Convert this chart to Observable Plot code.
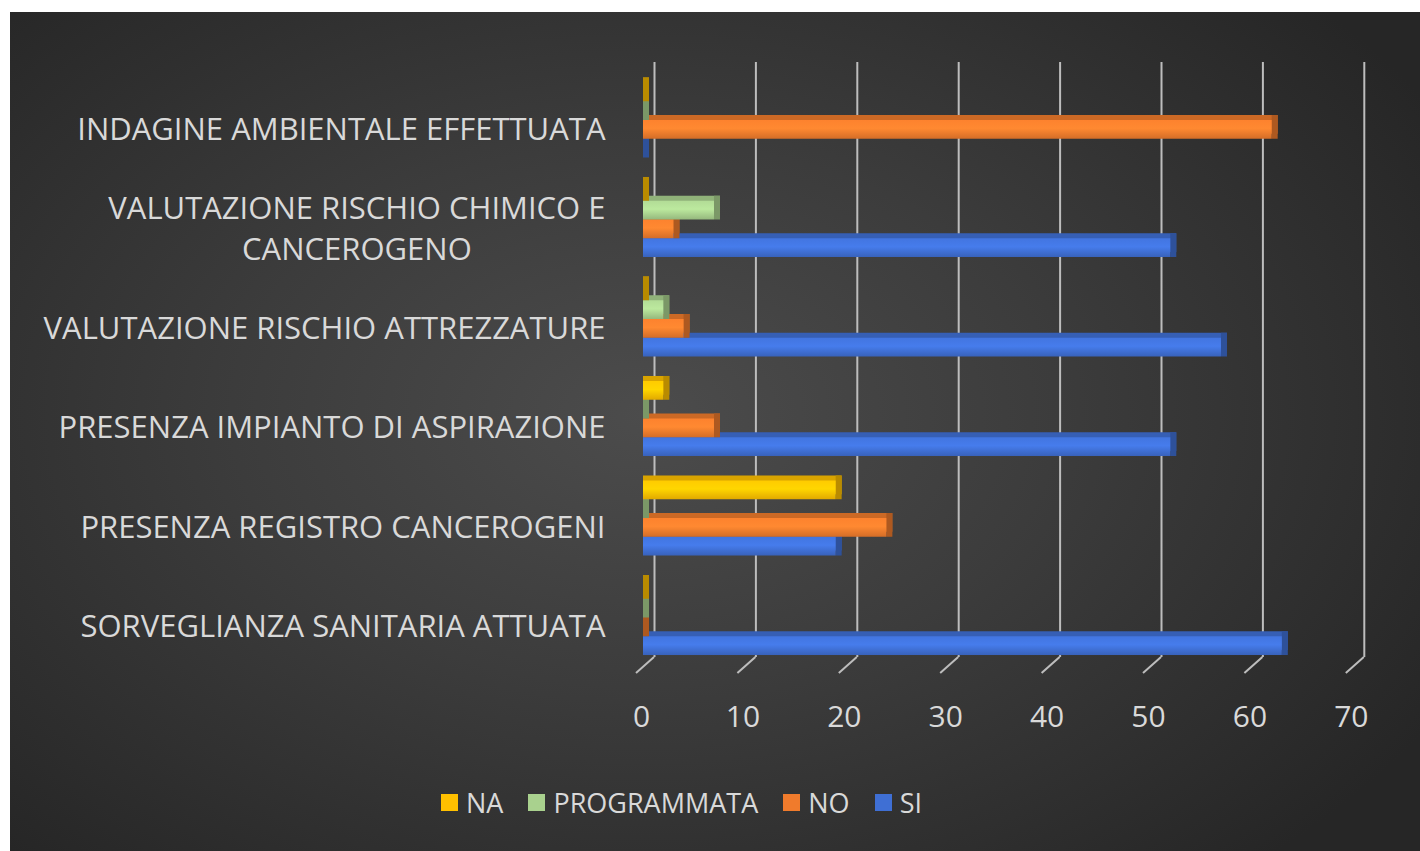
<!DOCTYPE html>
<html>
<head>
<meta charset="utf-8">
<script src="https://cdn.jsdelivr.net/npm/d3@7"></script>
<script src="https://cdn.jsdelivr.net/npm/@observablehq/plot@0.6"></script>
<style>
  html, body { margin: 0; padding: 0; background: #ffffff; }
  #panel {
    position: absolute; left: 10px; top: 12px; width: 1410px; height: 839px; overflow: hidden;
    background: radial-gradient(ellipse 65% 72% at 45% 48%, #4c4c4c 0%, #3c3c3c 45%, #262626 100%);
    font-family: "Open Sans", sans-serif;
  }
  #chart svg { display: block; }
  #legend {
    position: absolute; left: 431px; top: 772px; height: 36px;
    display: flex; align-items: center; color: #d9d9d9; font-size: 27px; white-space: nowrap;
  }
  .item { display: flex; align-items: center; margin-right: 25px; }
  .sw { width: 17px; height: 17px; margin-right: 8px; }
</style>
</head>
<body>
<div id="panel">
  <div id="chart"></div>
  <div id="legend"></div>
</div>
<script>
// ---- data ----
const categories = [
  "INDAGINE AMBIENTALE EFFETTUATA",
  "VALUTAZIONE RISCHIO CHIMICO E CANCEROGENO",
  "VALUTAZIONE RISCHIO ATTREZZATURE",
  "PRESENZA IMPIANTO DI ASPIRAZIONE",
  "PRESENZA REGISTRO CANCEROGENI",
  "SORVEGLIANZA SANITARIA ATTUATA"
];
const categoryLabels = [
  "INDAGINE AMBIENTALE EFFETTUATA",
  "VALUTAZIONE RISCHIO CHIMICO E\nCANCEROGENO",
  "VALUTAZIONE RISCHIO ATTREZZATURE",
  "PRESENZA IMPIANTO DI ASPIRAZIONE",
  "PRESENZA REGISTRO CANCEROGENI",
  "SORVEGLIANZA SANITARIA ATTUATA"
];
const series = ["NA", "PROGRAMMATA", "NO", "SI"];
const valuesNA          = [0, 0, 0, 2, 19, 0];
const valuesPROGRAMMATA = [0, 7, 2, 0, 0, 0];
const valuesNO          = [62, 3, 4, 7, 24, 0];
const valuesSI          = [0, 52, 57, 52, 19, 63];
const xTicks = [0, 10, 20, 30, 40, 50, 60, 70];
const colors = ["#FFC000", "#A9D18E", "#F07B2C", "#3F6FD4"];

const seriesValues = [valuesNA, valuesPROGRAMMATA, valuesNO, valuesSI];
const data = [];
series.forEach((s, si) => categories.forEach((c, ci) => data.push({series: s, si, category: c, value: seriesValues[si][ci]})));
const labelOf = new Map(categories.map((c, i) => [c, categoryLabels[i]]));

// ---- layout ----
const W = 1410, H = 760;
const mt = 46, mb = 92.5, ml = 633, mr = 67.2;
const pad = 0.246;
const step = (H - mt - mb) / (categories.length + pad);
const bw = step * (1 - pad);
const sub = bw / series.length;
const depthX = 6, depthY = 5;

const marks = [
  Plot.ruleX(xTicks, {x: d => d, stroke: "#bdbdbd", strokeWidth: 2, dx: 11, insetTop: 4, insetBottom: 22.5})
];
// draw from bottom series to top so upper bars cover lower bars' top faces
for (let si = series.length - 1; si >= 0; si--) {
  const rows = data.filter(d => d.si === si);
  const c = d3.color(colors[si]);
  const it = si * sub, ib = (series.length - 1 - si) * sub;
  marks.push(
    Plot.barX(rows, {x1: () => 0, x2: "value", y: "category", fill: c.darker(0.45).formatHex(),
      insetTop: it, insetBottom: ib, insetRight: -depthX, dy: -depthY}),
    Plot.barX(rows, {x1: "value", x2: "value", y: "category", fill: c.darker(0.9).formatHex(),
      insetTop: it - depthY, insetBottom: ib, insetRight: -depthX}),
    Plot.barX(rows, {x1: () => 0, x2: "value", y: "category", fill: `url(#grad${si})`,
      insetTop: it, insetBottom: ib})
  );
}
marks.push(
  Plot.axisY({tickSize: 0, tickPadding: 38, fontSize: 31, lineHeight: 1.32, dy: 6, label: null,
    tickFormat: d => labelOf.get(d)}),
  Plot.axisX({ticks: xTicks, tickSize: 0, tickPadding: 26, fontSize: 30, dx: -2, label: null})
);

const plot = Plot.plot({
  width: W, height: H,
  marginTop: mt, marginBottom: mb, marginLeft: ml, marginRight: mr,
  style: {background: "transparent", color: "#d9d9d9", fontFamily: "Open Sans, sans-serif", fontSize: "28px", overflow: "visible"},
  x: {domain: [0, 70], axis: null, label: null},
  y: {type: "band", domain: categories, padding: pad, round: false, axis: null, label: null},
  marks
});
document.getElementById("chart").appendChild(plot);

// gradients for the front faces
const svg = d3.select(plot);
const defs = svg.insert("defs", ":first-child");
colors.forEach((col, si) => {
  const c = d3.color(col);
  const g = defs.append("linearGradient").attr("id", `grad${si}`).attr("x1", 0).attr("y1", 0).attr("x2", 0).attr("y2", 1);
  g.append("stop").attr("offset", "0%").attr("stop-color", c.brighter(0.15).formatHex());
  g.append("stop").attr("offset", "45%").attr("stop-color", c.brighter(0.3).formatHex());
  g.append("stop").attr("offset", "100%").attr("stop-color", c.darker(0.35).formatHex());
});

// diagonal floor ticks (3D depth) from the x scale
const xs = plot.scale("x");
const yb = H - mb;
const floor = svg.append("g").attr("stroke", "#bdbdbd").attr("stroke-width", 2).attr("fill", "none");
xTicks.forEach(t => {
  const x = xs.apply(t);
  floor.append("path").attr("d", `M${x - 7},${yb - 6.5}L${x + 11},${yb - 22.5}`);
});

// center the multi-line category label as a block
svg.selectAll('g[aria-label="y-axis tick label"] text').each(function() {
  const tspans = this.querySelectorAll("tspan");
  if (tspans.length > 1) {
    const w = this.getBBox().width;
    this.setAttribute("text-anchor", "middle");
    tspans.forEach(ts => ts.setAttribute("x", -w / 2));
  }
});

// legend
const legend = d3.select("#legend");
series.forEach((s, si) => {
  const it = legend.append("div").attr("class", "item");
  it.append("div").attr("class", "sw").style("background", colors[si]);
  it.append("span").text(s);
});
</script>
</body>
</html>
